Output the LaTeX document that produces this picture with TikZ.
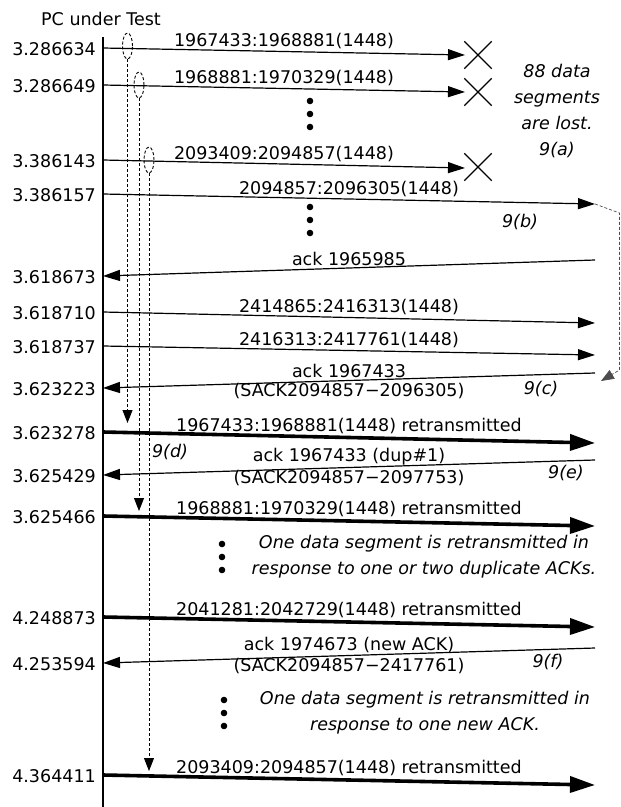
\documentclass[tikz,border=0pt]{standalone}
\usepackage{fontspec}
\setmainfont{DejaVu Sans}
\usetikzlibrary{arrows.meta,shapes.geometric,shapes.misc}

\begin{document}
\begin{tikzpicture}[
  x=1pt,y=-1pt,
  font=\fontsize{17.5}{26}\selectfont,
  time/.style={anchor=east,inner sep=0pt,xshift=-7pt,yshift=-1pt},
  msg/.style={-{Triangle[length=17pt,width=11pt]},line width=1.2pt},
  retx/.style={-{Triangle[length=25pt,width=16pt]},line width=3.6pt},
  lbl/.style={above,inner sep=2pt},
  sack/.style={below,inner sep=2pt},
  note/.style={font=\fontsize{17.5}{26}\selectfont\itshape,align=center,inner sep=0pt},
  lost/.style={draw,cross out,minimum size=26pt,line width=1.4pt,inner sep=0pt},
  loop/.style={draw,ellipse,dash pattern=on 3pt off 2pt,line width=0.9pt,minimum width=10pt,minimum height=26pt,inner sep=0pt},
  wait/.style={dash pattern=on 3pt off 2pt,line width=0.9pt,-{Triangle[length=13pt,width=10pt]}}
]
\useasboundingbox (0,0) rectangle (621,807);

% time axis of the PC
\node (pc) at (101,19) {PC under Test};
\coordinate (top) at (103,37);
\coordinate (bot) at (103,807);
\draw[line width=1.4pt] (top) -- (bot);

% lost segments
\coordinate (s1) at (103,48);  \coordinate (e1) at (465,55);
\coordinate (s2) at (103,85);  \coordinate (e2) at (465,92);
\coordinate (s3) at (103,160); \coordinate (e3) at (465,168);
\node[time] (t1) at (s1) {3.286634};
\node[time] (t2) at (s2) {3.286649};
\node[time] (t3) at (s3) {3.386143};
\draw[msg] (s1) -- node[lbl] (m1) {1967433:1968881(1448)} (e1);
\draw[msg] (s2) -- node[lbl] (m2) {1968881:1970329(1448)} (e2);
\draw[msg] (s3) -- node[lbl] (m3) {2093409:2094857(1448)} (e3);
\node[lost] (x1) at (478,55) {};
\node[lost] (x2) at (478,92) {};
\node[lost] (x3) at (478,167) {};
\node[note] (n1) at (557,111) {88 data\\segments\\are lost.\\9(a)};

% segments that get through
\coordinate (s4) at (103,194); \coordinate (e4) at (595,204);
\node[time] (t4) at (s4) {3.386157};
\draw[msg] (s4) -- node[lbl] (m4) {2094857:2096305(1448)} (e4);
\node[note] (lb) at (520,222) {9(b)};

\coordinate (a1) at (595,260); \coordinate (s5) at (103,276);
\node[time] (t5) at (s5) {3.618673};
\draw[msg] (a1) -- node[lbl] (k1) {ack 1965985} (s5);

\coordinate (s6) at (103,312); \coordinate (e6) at (595,323);
\coordinate (s7) at (103,346); \coordinate (e7) at (595,355);
\node[time] (t6) at (s6) {3.618710};
\node[time] (t7) at (s7) {3.618737};
\draw[msg] (s6) -- node[lbl] (m6) {2414865:2416313(1448)} (e6);
\draw[msg] (s7) -- node[lbl] (m7) {2416313:2417761(1448)} (e7);

\coordinate (a2) at (595,373); \coordinate (s8) at (103,388);
\node[time] (t8) at (s8) {3.623223};
\draw[msg] (a2) -- node[lbl] (k2) {ack 1967433} node[sack] (q2) {(SACK2094857−2096305)} (s8);
\node[note] (lc) at (541,389) {9(c)};

% SACK block reported back
\coordinate (g1) at (619.5,213);
\coordinate (g2) at (619.5,370);
\coordinate (g3) at (601,381);
\draw[wait,line width=0.7pt,black!70] (e4) -- (g1) -- (g2) -- (g3);

% retransmissions
\coordinate (s9) at (103,432); \coordinate (e9) at (595,443);
\node[time] (t9) at (s9) {3.623278};
\draw[retx] (s9) -- node[lbl] (m9) {1967433:1968881(1448) retransmitted} (e9);
\node[note] (ld) at (170,452) {9(d)};

\coordinate (a3) at (595,460); \coordinate (s10) at (103,475);
\node[time] (t10) at (s10) {3.625429};
\draw[msg] (a3) -- node[lbl] (k3) {ack 1967433 (dup\#1)} node[sack] (q3) {(SACK2094857−2097753)} (s10);
\node[note] (le) at (566,473) {9(e)};

\coordinate (s11) at (103,516); \coordinate (e11) at (595,526);
\node[time] (t11) at (s11) {3.625466};
\draw[retx] (s11) -- node[lbl] (m11) {1968881:1970329(1448) retransmitted} (e11);
\node[note] (n2) at (424,557) {One data segment is retransmitted in\\response to one or two duplicate ACKs.};

\coordinate (s12) at (103,617); \coordinate (e12) at (595,627);
\node[time] (t12) at (s12) {4.248873};
\draw[retx] (s12) -- node[lbl] (m12) {2041281:2042729(1448) retransmitted} (e12);

\coordinate (a4) at (595,648); \coordinate (s13) at (103,663);
\node[time] (t13) at (s13) {4.253594};
\draw[msg] (a4) -- node[lbl] (k4) {ack 1974673 (new ACK)} node[sack] (q4) {(SACK2094857−2417761)} (s13);
\node[note] (lf) at (548,662) {9(f)};
\node[note] (n3) at (425,713) {One data segment is retransmitted in\\response to one new ACK.};

\coordinate (s14) at (103,775); \coordinate (e14) at (595,785);
\node[time] (t14) at (s14) {4.364411};
\draw[retx] (s14) -- node[lbl] (m14) {2093409:2094857(1448) retransmitted} (e14);

% elided segments
\foreach \x/\y in {310/114,310/220,222/557,224/713}
  \fill (\x,\y-13) circle (3.3pt) (\x,\y) circle (3.3pt) (\x,\y+13) circle (3.3pt);

% waiting for the retransmission
\node[loop] (o1) at (127.5,46) {};
\node[loop] (o2) at (139,85) {};
\node[loop] (o3) at (149,160) {};
\coordinate (w1) at (127.5,423);
\coordinate (w2) at (139,511);
\coordinate (w3) at (149,771);
\draw[wait] (o1.south) -- (w1);
\draw[wait] (o2.south) -- (w2);
\draw[wait] (o3.south) -- (w3);
\end{tikzpicture}
\end{document}
